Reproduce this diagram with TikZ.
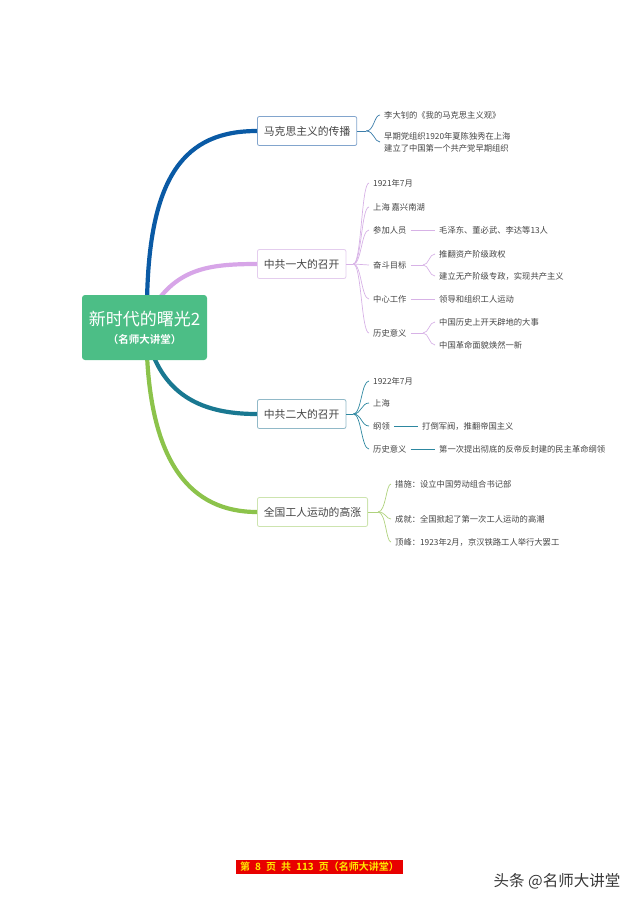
\documentclass[tikz,border=0pt]{standalone}
\usepackage{fontspec}
\setmainfont{Noto Sans CJK SC}[BoldFont={Noto Sans CJK SC Bold}]
\usetikzlibrary{calc,backgrounds}
\definecolor{txt}{RGB}{68,68,68}
\definecolor{rootgreen}{RGB}{76,190,134}
\definecolor{blueD}{RGB}{10,90,165}
\definecolor{blueL}{RGB}{130,165,205}
\definecolor{blueT}{RGB}{60,125,170}
\definecolor{purpleD}{RGB}{215,165,232}
\definecolor{purpleL}{RGB}{228,205,238}
\definecolor{purpleT}{RGB}{215,178,230}
\definecolor{tealD}{RGB}{25,120,145}
\definecolor{tealL}{RGB}{145,185,200}
\definecolor{tealT}{RGB}{45,135,160}
\definecolor{greenD}{RGB}{140,195,75}
\definecolor{greenL}{RGB}{205,228,175}
\definecolor{greenT}{RGB}{175,210,125}
\definecolor{footred}{RGB}{232,0,0}
\definecolor{footyellow}{RGB}{255,232,0}

\begin{document}
\begin{tikzpicture}[x=1pt,y=-1pt,
    root/.style={fill=rootgreen,rounded corners=3pt,minimum width=125pt,minimum height=65pt,text=white,align=center},
    topic/.style={draw,fill=white,rounded corners=2pt,line width=0.8pt,anchor=west,minimum height=29pt,inner xsep=6.5pt,text=txt,font=\fontsize{10.8}{13}\selectfont},
    leaf/.style={anchor=west,inner xsep=4pt,inner ysep=1pt,text=txt,align=left,font=\fontsize{8.3}{12}\selectfont},
    trunk/.style={line width=4.2pt},
    twig/.style={line width=0.7pt}]
    \useasboundingbox (0,0) rectangle (640,905); % page size

    % centre
    \node[root] (root) at (144.5,327.5) {{\fontsize{17}{20}\selectfont 新时代的曙光2}\\[6pt]{\fontsize{10.5}{12}\selectfont\bfseries （名师大讲堂）}};

    % main topics
    \node[topic,draw=blueL] (marx) at (257,131) {马克思主义的传播};
    \node[topic,draw=purpleL] (yida) at (257,264) {中共一大的召开};
    \node[topic,draw=tealL] (erda) at (257,414) {中共二大的召开};
    \node[topic,draw=greenL] (gongren) at (257,512) {全国工人运动的高涨};

    \begin{scope}[on background layer]
        \draw[trunk,blueD] (147,302) .. controls (149,175) and (185,131) .. (marx.west);
        \draw[trunk,purpleD] (158,300) .. controls (182,268) and (212,264) .. (yida.west);
        \draw[trunk,tealD] (153,355) .. controls (172,402) and (212,414) .. (erda.west);
        \draw[trunk,greenD] (147,355) .. controls (152,462) and (190,512) .. (gongren.west);
    \end{scope}

    % marx
    \node[leaf] (ma1) at (380,115) {李大钊的《我的马克思主义观》};
    \node[leaf] (ma2) at (380,142) {早期党组织1920年夏陈独秀在上海\\建立了中国第一个共产党早期组织};
    \coordinate (j1) at ($(marx.east)+(9,0)$);
    \draw[twig,blueT] (marx.east) -- (j1);
    \foreach \c in {ma1,ma2}
        \draw[twig,blueT] (j1) .. controls ($(j1)+(8,0)$) and ($(j1 |- \c.west)+(8,0)$) .. (\c.west);

    % yida
    \node[leaf] (ya1) at (369,183) {1921年7月};
    \node[leaf] (ya2) at (369,207) {上海 嘉兴南湖};
    \node[leaf] (ya3) at (369,230) {参加人员};
    \node[leaf] (ya4) at (369,265) {奋斗目标};
    \node[leaf] (ya5) at (369,299) {中心工作};
    \node[leaf] (ya6) at (369,333) {历史意义};
    \coordinate (j2) at ($(yida.east)+(7,0)$);
    \draw[twig,purpleT] (yida.east) -- (j2);
    \foreach \c in {ya1,ya2,ya3,ya4,ya5,ya6}
        \draw[twig,purpleT] (j2) .. controls ($(j2)+(8,0)$) and ($(j2 |- \c.west)+(8,0)$) .. (\c.west);

    \node[leaf] (yb3) at (435,230) {毛泽东、董必武、李达等13人};
    \node[leaf] (yb4a) at (435,254) {推翻资产阶级政权};
    \node[leaf] (yb4b) at (435,276) {建立无产阶级专政，实现共产主义};
    \node[leaf] (yb5) at (435,299) {领导和组织工人运动};
    \node[leaf] (yb6a) at (435,322) {中国历史上开天辟地的大事};
    \node[leaf] (yb6b) at (435,345) {中国革命面貌焕然一新};
    \draw[twig,purpleT] (ya3.east) -- (yb3.west);
    \draw[twig,purpleT] (ya5.east) -- (yb5.west);
    \coordinate (j24) at (423,265);
    \coordinate (j26) at (423,333);
    \draw[twig,purpleT] (ya4.east) -- (j24);
    \draw[twig,purpleT] (ya6.east) -- (j26);
    \foreach \c in {yb4a,yb4b}
        \draw[twig,purpleT] (j24) .. controls ($(j24)+(6,0)$) and ($(j24 |- \c.west)+(6,0)$) .. (\c.west);
    \foreach \c in {yb6a,yb6b}
        \draw[twig,purpleT] (j26) .. controls ($(j26)+(6,0)$) and ($(j26 |- \c.west)+(6,0)$) .. (\c.west);

    % erda
    \node[leaf] (ea1) at (369,381) {1922年7月};
    \node[leaf] (ea2) at (369,403) {上海};
    \node[leaf] (ea3) at (369,426) {纲领};
    \node[leaf] (ea4) at (369,449) {历史意义};
    \coordinate (j3) at ($(erda.east)+(7,0)$);
    \draw[twig,tealT] (erda.east) -- (j3);
    \foreach \c in {ea1,ea2,ea3,ea4}
        \draw[twig,tealT] (j3) .. controls ($(j3)+(8,0)$) and ($(j3 |- \c.west)+(8,0)$) .. (\c.west);
    \node[leaf] (eb3) at (418,426) {打倒军阀，推翻帝国主义};
    \node[leaf] (eb4) at (435,449) {第一次提出彻底的反帝反封建的民主革命纲领};
    \draw[twig,tealT] (ea3.east) -- (eb3.west);
    \draw[twig,tealT] (ea4.east) -- (eb4.west);

    % gongren
    \node[leaf] (ga1) at (391,484) {措施：设立中国劳动组合书记部};
    \node[leaf] (ga2) at (391,519) {成就：全国掀起了第一次工人运动的高潮};
    \node[leaf] (ga3) at (391,542) {顶峰：1923年2月，京汉铁路工人举行大罢工};
    \coordinate (j4) at ($(gongren.east)+(10,0)$);
    \draw[twig,greenT] (gongren.east) -- (j4);
    \foreach \c in {ga1,ga2,ga3}
        \draw[twig,greenT] (j4) .. controls ($(j4)+(8,0)$) and ($(j4 |- \c.west)+(8,0)$) .. (\c.west);

    % footer
    \node[fill=footred,text=footyellow,font=\fontsize{10}{11}\selectfont\bfseries,minimum width=167pt,minimum height=14pt,inner sep=0pt] (page) at (319.5,867) {第\hspace{5pt}8\hspace{5pt}页\hspace{5pt}共\hspace{5pt}113\hspace{5pt}页（名师大讲堂）};
    \node[text={rgb,255:red,55;green,55;blue,55},font=\fontsize{15.5}{17}\selectfont] (mark) at (557,881) {头条 @名师大讲堂};
\end{tikzpicture}
\end{document}
